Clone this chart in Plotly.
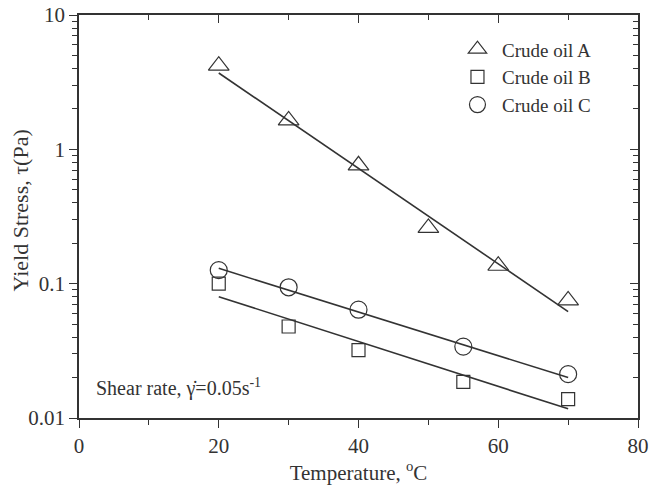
import plotly.graph_objects as go

# Data
temp_A = [20, 30, 40, 50, 60, 70]
stress_A = [4.2, 1.64, 0.76, 0.26, 0.136, 0.075]
temp_B = [20, 30, 40, 55, 70]
stress_B = [0.100, 0.048, 0.032, 0.0186, 0.0138]
temp_C = [20, 30, 40, 55, 70]
stress_C = [0.126, 0.094, 0.064, 0.034, 0.0212]

fit_x = [20, 70]
fit_A = [3.7, 0.062]
fit_B = [0.080, 0.0117]
fit_C = [0.13, 0.020]

series_names = ["Crude oil A", "Crude oil B", "Crude oil C"]
x_ticks = [0, 20, 40, 60, 80]
y_ticks = [0.01, 0.1, 1, 10]
y_tick_text = ["0.01", "0.1", "1", "10"]

INK = "#333333"
FONT = "Liberation Serif"

fig = go.Figure()

for fy in (fit_A, fit_B, fit_C):
    fig.add_trace(go.Scatter(x=fit_x, y=fy, mode="lines",
                             line=dict(color=INK, width=1.6),
                             showlegend=False, hoverinfo="skip"))

markers = [
    (temp_A, stress_A, "triangle-up-open", 18),
    (temp_B, stress_B, "square-open", 13),
    (temp_C, stress_C, "circle-open", 17),
]
for name, (xs, ys, sym, sz) in zip(series_names, markers):
    fig.add_trace(go.Scatter(x=xs, y=ys, mode="markers", name=name,
                             marker=dict(symbol=sym, size=sz, color=INK,
                                         line=dict(color=INK, width=1.2))))

# invisible copy of a fit line, only to activate the mirror axes (top/right)
fig.add_trace(go.Scatter(x=fit_x, y=fit_A, xaxis="x2", yaxis="y2", mode="lines",
                         opacity=0, showlegend=False, hoverinfo="skip"))

common = dict(showgrid=False, zeroline=False, showline=True, linecolor=INK,
              linewidth=1.6, tickwidth=1.4, tickcolor=INK, automargin=False)

fig.update_layout(
    width=650, height=485,
    margin=dict(l=79, r=12, t=15, b=67),
    paper_bgcolor="white", plot_bgcolor="white",
    font=dict(family=FONT, size=21, color=INK),
    xaxis=dict(range=[0, 80], tickvals=x_ticks, ticks="outside", ticklen=8,
               minor=dict(dtick=10, tick0=0, ticks="outside", ticklen=5, tickwidth=1.2, tickcolor=INK),
               title=dict(text="Temperature, <sup>o</sup>C", font=dict(size=21), standoff=2),
               **common),
    yaxis=dict(type="log", range=[-2, 1], tickvals=y_ticks, ticktext=y_tick_text,
               ticks="outside", ticklen=8,
               minor=dict(dtick="D1", ticks="outside", ticklen=5, tickwidth=1.2, tickcolor=INK),
               **common),
    xaxis2=dict(overlaying="x", side="top", anchor="y", range=[0, 80], tickvals=x_ticks,
                ticks="inside", ticklen=8, showticklabels=False,
                minor=dict(dtick=10, tick0=0, ticks="inside", ticklen=5, tickwidth=1.2, tickcolor=INK),
                **common),
    yaxis2=dict(overlaying="y", side="right", anchor="x", type="log", range=[-2, 1],
                tickvals=y_ticks, ticks="inside", ticklen=8, showticklabels=False,
                minor=dict(dtick="D1", ticks="inside", ticklen=5, tickwidth=1.2, tickcolor=INK),
                **common),
    legend=dict(x=0.669, y=0.962, xanchor="left", yanchor="top",
                bgcolor="rgba(0,0,0,0)", font=dict(size=19), tracegroupgap=0,
                itemsizing="trace", itemwidth=39),
    showlegend=True,
)

fig.add_annotation(x=-0.1055, y=0.515, xref="paper", yref="paper", xanchor="center", yanchor="middle",
                   text="Yield Stress, τ(Pa)", textangle=-90, showarrow=False,
                   font=dict(family=FONT, size=22, color=INK))

fig.add_annotation(x=0.026, y=0.075, xref="paper", yref="paper", xanchor="left", yanchor="middle",
                   text="Shear rate, γ\u0307=0.05s<sup>-1</sup>", showarrow=False,
                   font=dict(family=FONT, size=20, color=INK))

fig.write_html("out.html", config={"displayModeBar": False},
               post_script="document.body.style.margin='0px';")
